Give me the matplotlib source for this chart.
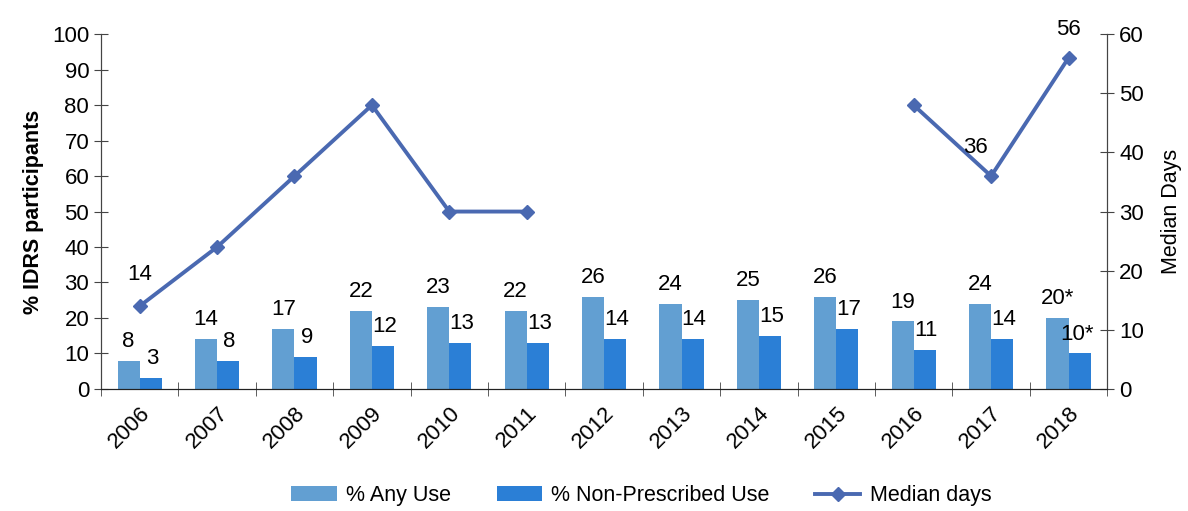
import numpy as np
import matplotlib.pyplot as plt

plt.rcParams['font.family'] = ['Liberation Sans', 'DejaVu Sans']

# --- data
years = ["2006", "2007", "2008", "2009", "2010", "2011", "2012",
         "2013", "2014", "2015", "2016", "2017", "2018"]
any_use = [8, 14, 17, 22, 23, 22, 26, 24, 25, 26, 19, 24, 20]
non_presc = [3, 8, 9, 12, 13, 13, 14, 14, 15, 17, 11, 14, 10]
median_days = [14, 24, 36, 48, 30, 30, np.nan, np.nan, np.nan, np.nan, 48, 36, 56]
any_labels = ["8", "14", "17", "22", "23", "22", "26", "24", "25", "26", "19", "24", "20*"]
np_labels = ["3", "8", "9", "12", "13", "13", "14", "14", "15", "17", "11", "14", "10*"]

c_any = "#629fd2"
c_np = "#2b7fd6"
c_line = "#4a69b1"
fs = 16

fig = plt.figure(figsize=(11.88, 5.11), dpi=100)
ax = fig.add_axes([0.085, 0.239, 0.847, 0.694])
ax2 = ax.twinx()

x = np.arange(len(years))
w = 0.285
b1 = ax.bar(x - w / 2, any_use, w, color=c_any, label="% Any Use", zorder=2)
b2 = ax.bar(x + w / 2, non_presc, w, color=c_np, label="% Non-Prescribed Use", zorder=2)

for i in range(len(years)):
    ax.text(x[i] - w / 2, any_use[i] + 2.5, any_labels[i], ha="center", va="bottom", fontsize=fs)
    dx = -0.03 if i == len(years) - 1 else 0.02
    ax.text(x[i] + w / 2 + dx, non_presc[i] + 2.5, np_labels[i], ha="center", va="bottom", fontsize=fs)

ln, = ax2.plot(x, median_days, color=c_line, lw=2.8, marker="D", ms=7.5,
               label="Median days", zorder=3)
ax2.text(x[0], median_days[0] + 3.5, "14", ha="center", va="bottom", fontsize=fs)
ax2.text(x[11] - 0.2, median_days[11] + 3, "36", ha="center", va="bottom", fontsize=fs)
ax2.text(x[12], median_days[12] + 3, "56", ha="center", va="bottom", fontsize=fs)

ax.set_xlim(-0.5, len(years) - 0.5)
ax.set_ylim(0, 100)
ax.set_yticks(range(0, 101, 10))
ax2.set_ylim(0, 60)
ax2.set_yticks(range(0, 61, 10))

ax.set_xticks(x)
ax.set_xticklabels(years, rotation=45, ha="right", rotation_mode="anchor", fontsize=fs)
ax.set_xticks(np.arange(-0.5, len(years), 1), minor=True)
ax.tick_params(axis="x", which="major", length=0, pad=10)
ax.tick_params(axis="x", which="minor", length=10, direction="inout", color="#444444")
ax.tick_params(axis="y", labelsize=fs, direction="inout", length=10, color="#444444")
ax2.tick_params(axis="y", labelsize=fs, direction="inout", length=10, color="#444444")

ax.set_ylabel("% IDRS participants", fontsize=15.5, fontweight="bold", labelpad=6)
ax2.set_ylabel("Median Days", fontsize=15.5, labelpad=12)

for a in (ax, ax2):
    a.spines["top"].set_visible(False)
    a.spines["left"].set_color("#444444")
    a.spines["right"].set_color("#444444")
    a.spines["bottom"].set_color("#222222")

fig.legend(handles=[b1, b2, ln], loc="center", bbox_to_anchor=(0.54, 0.03),
           ncol=3, frameon=False, fontsize=15.5, handlelength=2.1, columnspacing=2.1,
           handletextpad=0.45)

fig.savefig("out.png", dpi=100)
